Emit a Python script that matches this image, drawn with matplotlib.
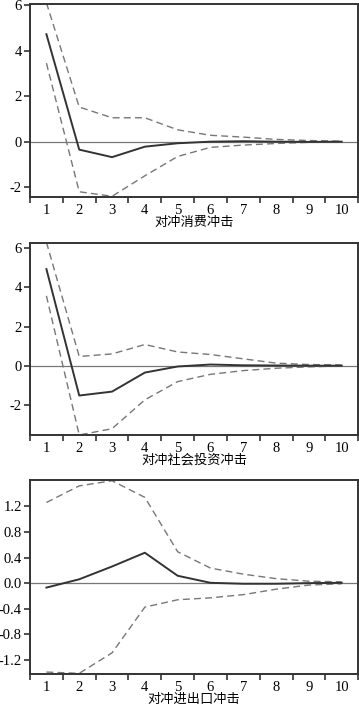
import numpy as np
import matplotlib.pyplot as plt

plt.rcParams['font.family'] = ['Liberation Serif', 'Noto Sans CJK SC']

periods = np.arange(1, 11)

# 对冲消费冲击
cons_mid = [4.72, -0.35, -0.68, -0.22, -0.07, 0.0, 0.02, 0.0, -0.01, 0.0]
cons_up = [6.1, 1.52, 1.05, 1.05, 0.52, 0.28, 0.2, 0.1, 0.05, 0.02]
cons_lo = [3.45, -2.2, -2.4, -1.5, -0.65, -0.25, -0.15, -0.08, -0.03, -0.01]

# 对冲社会投资冲击
inv_mid = [4.93, -1.51, -1.31, -0.34, -0.03, 0.07, 0.03, 0.02, 0.01, 0.01]
inv_up = [6.3, 0.48, 0.61, 1.09, 0.71, 0.58, 0.36, 0.14, 0.07, 0.05]
inv_lo = [3.57, -3.52, -3.2, -1.73, -0.8, -0.43, -0.24, -0.12, -0.05, 0.0]

# 对冲进出口冲击
trade_mid = [-0.07, 0.06, 0.26, 0.475, 0.115, 0.005, -0.01, -0.01, 0.0, 0.005]
trade_up = [1.26, 1.52, 1.6, 1.34, 0.49, 0.235, 0.14, 0.07, 0.03, 0.02]
trade_lo = [-1.39, -1.41, -1.09, -0.375, -0.26, -0.23, -0.18, -0.095, -0.03, -0.01]

titles = ['对冲消费冲击', '对冲社会投资冲击', '对冲进出口冲击']
ylims = [(-2.43, 6.05), (-3.52, 6.25), (-1.42, 1.61)]
yticks = [[-2, 0, 2, 4, 6], [-2, 0, 2, 4, 6], [-1.2, -0.8, -0.4, 0.0, 0.4, 0.8, 1.2]]
yfmt = ['{:.0f}', '{:.0f}', '{:.1f}']

panels = [(cons_mid, cons_up, cons_lo),
          (inv_mid, inv_up, inv_lo),
          (trade_mid, trade_up, trade_lo)]

fig = plt.figure(figsize=(3.59, 7.05), dpi=100)
rects = [[0.0836, 0.7206, 0.914, 0.2738],
         [0.0836, 0.383, 0.914, 0.272],
         [0.0836, 0.044, 0.914, 0.275]]

for i, (mid, up, lo) in enumerate(panels):
    ax = fig.add_axes(rects[i])
    ax.axhline(0, color='#777777', lw=0.9, zorder=1)
    ax.plot(periods, up, color='#777777', lw=1.0, ls=(0, (5, 3)))
    ax.plot(periods, lo, color='#777777', lw=1.0, ls=(0, (5, 3)))
    ax.plot(periods, mid, color='#333333', lw=1.4)
    ax.set_xlim(0.5, 10.5)
    ax.set_ylim(*ylims[i])
    # ticks sit between periods, labels centred on each period
    ax.set_xticks(np.arange(0.5, 11, 1.0))
    ax.set_xticklabels([])
    ax.set_xticks(periods, minor=True)
    ax.set_xticklabels([str(p) for p in periods], minor=True, family='Liberation Serif')
    ax.tick_params(axis='x', which='major', direction='out', length=4, width=1.2, color='#333333')
    ax.tick_params(axis='x', which='minor', length=0, labelsize=10.5, pad=5)
    ax.set_yticks(yticks[i])
    ax.set_yticklabels([yfmt[i].format(v) for v in yticks[i]], family='Liberation Serif')
    ax.tick_params(axis='y', direction='out', length=4, width=1.2, color='#333333', labelsize=10.5, pad=2)
    for s in ax.spines.values():
        s.set_linewidth(1.4)
        s.set_color('#333333')
    ax.set_xlabel(titles[i], family=['Noto Sans CJK SC'], fontsize=9.5, labelpad=-1)

fig.savefig('out.png', dpi=100)
